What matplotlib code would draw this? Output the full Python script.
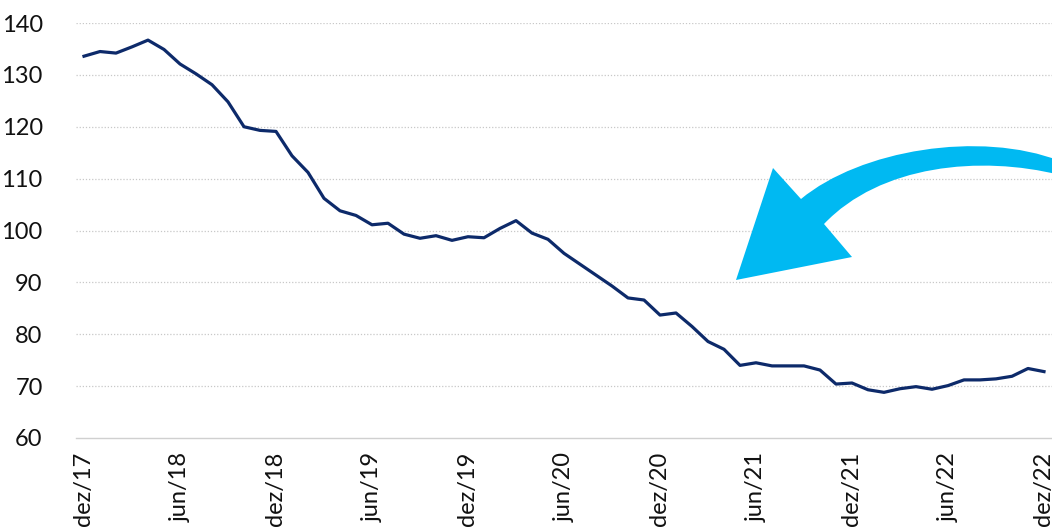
import matplotlib
matplotlib.use("Agg")
import matplotlib.pyplot as plt
from matplotlib.path import Path
from matplotlib.patches import PathPatch

# Monthly values, dez/17 .. dez/22
values = [133.6, 134.5, 134.2, 135.4, 136.7, 134.9, 132.1, 130.2, 128.1, 124.8,
          120.0, 119.3, 119.1, 114.4, 111.2, 106.2, 103.8, 102.9, 101.1, 101.4,
          99.3, 98.5, 99.0, 98.1, 98.8, 98.6, 100.4, 101.9, 99.5, 98.3,
          95.6, 93.5, 91.4, 89.3, 87.0, 86.6, 83.7, 84.1, 81.5, 78.6,
          77.1, 74.0, 74.5, 73.9, 73.9, 73.9, 73.1, 70.4, 70.6, 69.3,
          68.8, 69.5, 69.9, 69.4, 70.1, 71.2, 71.2, 71.4, 71.9, 73.4,
          72.8]
tick_labels = ["dez/17", "jun/18", "dez/18", "jun/19", "dez/19", "jun/20",
               "dez/20", "jun/21", "dez/21", "jun/22", "dez/22"]
yticks = [60, 70, 80, 90, 100, 110, 120, 130, 140]

plt.rcParams['font.family'] = ['Lato', 'DejaVu Sans']

W, H = 1052, 531
fig = plt.figure(figsize=(W / 100, H / 100), dpi=100)
ax = fig.add_axes([76 / W, 93 / H, (W - 76) / W, (438 - 23) / H])

x = list(range(len(values)))
ax.plot(x, values, color="#0D2A6A", lw=2.3, solid_joinstyle="round", zorder=3, clip_on=False)

ax.set_xlim(-0.5, len(values) - 0.5)
ax.set_ylim(60, 140)
ax.set_yticks(yticks)
ax.set_yticklabels([str(v) for v in yticks], fontsize=17, color="#111111")
ax.set_xticks(list(range(0, len(values), 6)))
ax.set_xticklabels(tick_labels, rotation=90, fontsize=17, color="#111111",
                   ha="center", va="top")
ax.tick_params(axis="both", length=0)
ax.tick_params(axis="y", pad=24)
ax.tick_params(axis="x", pad=10)

for s in ["top", "right", "left"]:
    ax.spines[s].set_visible(False)
ax.spines["bottom"].set_color("#D0D0D0")
ax.spines["bottom"].set_linewidth(1.0)

for v in yticks[1:]:
    ax.axhline(v, color="#C8C8C8", lw=0.9, ls=(0, (1, 1.5)), zorder=1)

# Curved annotation arrow (figure pixel coords -> figure fraction)
def P(px, py):
    return (px / W, 1 - py / H)

verts = [P(736, 280), P(773, 168), P(801, 199),
         P(860, 150), P(980, 130), P(1060, 161),
         P(1060, 175),
         P(980, 155), P(880, 165), P(824, 224),
         P(852, 257), P(736, 280)]
codes = [Path.MOVETO, Path.LINETO, Path.LINETO,
         Path.CURVE4, Path.CURVE4, Path.CURVE4,
         Path.LINETO,
         Path.CURVE4, Path.CURVE4, Path.CURVE4,
         Path.LINETO, Path.CLOSEPOLY]
patch = PathPatch(Path(verts, codes), facecolor="#00B9F2", edgecolor="none",
                  transform=fig.transFigure, zorder=5)
fig.patches.append(patch)

fig.savefig("out.png", dpi=100)
